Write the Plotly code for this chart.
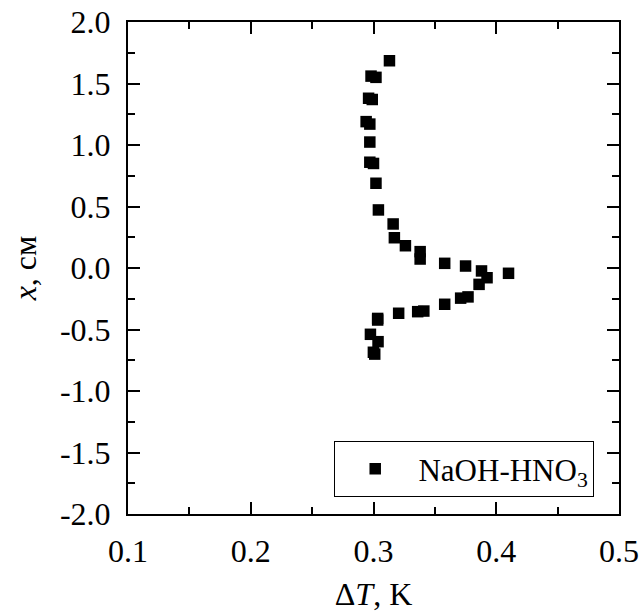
import plotly.graph_objects as go

# Data
delta_T = [0.313, 0.298, 0.302, 0.296, 0.299, 0.294, 0.297, 0.297, 0.297, 0.300,
           0.302, 0.304, 0.316, 0.317, 0.326, 0.338, 0.338, 0.358, 0.375, 0.388,
           0.3925, 0.410, 0.386, 0.371, 0.377, 0.358, 0.336, 0.341, 0.3205, 0.3034,
           0.3034, 0.2975, 0.3037, 0.2999, 0.3010]
x_cm = [1.685, 1.560, 1.550, 1.380, 1.370, 1.190, 1.170, 1.024, 0.860, 0.850,
        0.689, 0.472, 0.358, 0.246, 0.181, 0.133, 0.073, 0.038, 0.016, -0.024,
        -0.079, -0.043, -0.133, -0.245, -0.235, -0.295, -0.355, -0.350, -0.368, -0.423,
        -0.410, -0.539, -0.599, -0.685, -0.700]

series_name = "NaOH-HNO<sub>3</sub>"
x_range = [0.1, 0.5]
y_range = [-2.0, 2.0]
x_ticks = [0.1, 0.2, 0.3, 0.4, 0.5]
y_ticks = [2.0, 1.5, 1.0, 0.5, 0.0, -0.5, -1.0, -1.5, -2.0]

FONT = "Liberation Serif"

fig = go.Figure()
fig.add_trace(go.Scatter(
    x=delta_T, y=x_cm, mode="markers", name="\u00a0\u00a0\u00a0" + series_name,
    marker=dict(symbol="square", size=11.5, color="black", line=dict(width=0)),
))

axis_common = dict(
    showline=True, linecolor="black", linewidth=2, mirror="allticks",
    ticks="inside", ticklen=12, tickwidth=2, tickcolor="black",
    showgrid=False, zeroline=False, automargin=False,
    tickfont=dict(family=FONT, size=32, color="black"),
    title_font=dict(family=FONT, size=32, color="black"),
)

fig.update_xaxes(
    range=x_range, tickvals=x_ticks, ticktext=[f"{v:.1f}" for v in x_ticks],
    minor=dict(dtick=0.05, ticks="inside", ticklen=7, tickwidth=2, tickcolor="black", showgrid=False),
    title_text="\u0394<i>T</i>, K", title_standoff=14, ticklabelstandoff=8,
    **axis_common,
)
fig.update_yaxes(
    range=y_range, tickvals=y_ticks, ticktext=[f"{v:.1f}" for v in y_ticks],
    minor=dict(dtick=0.25, ticks="inside", ticklen=7, tickwidth=2, tickcolor="black", showgrid=False),
    title_text="<i>x</i>, см", title_standoff=14, ticklabelstandoff=9,
    **axis_common,
)

fig.update_layout(
    width=641, height=612,
    margin=dict(l=128, r=22, t=22, b=98, pad=0),
    plot_bgcolor="white", paper_bgcolor="white",
    showlegend=True,
    legend=dict(
        x=0.42, y=0.148, xanchor="left", yanchor="top",
        bgcolor="white", bordercolor="black", borderwidth=1,
        font=dict(family=FONT, size=31, color="black"),
        indentation=20,
    ),
)

fig.write_html("out.html")
